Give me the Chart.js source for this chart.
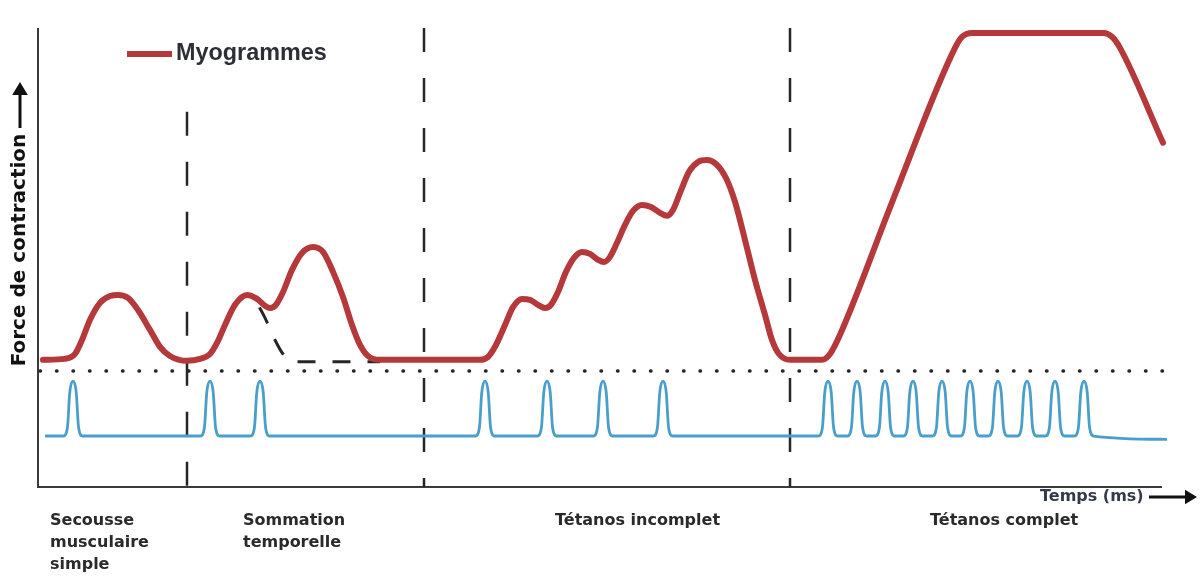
<!DOCTYPE html>
<html>
<head>
<meta charset="utf-8">
<script src="https://cdn.jsdelivr.net/npm/chart.js@4/dist/chart.umd.min.js"></script>
<style>
body{margin:0;background:#fff;}
#wrap{width:1200px;height:576px;position:relative;}
</style>
</head>
<body>
<div id="wrap"><canvas id="myo"></canvas></div>
<script>
// myogramme : temps (ms) / force (u.a., 0 = repos, 100 = plateau du tetanos)
var myoTime  = [2.5,13.5,18.5,22,26,31,36,40,45,50,56,61,66,74.5,81,86,
                89.5,93.5,98.5,104.5,109.5,113.5,116,119,122.5,127,132,137.5,142.5,147.5,152.5,157,161,165,171,
                191,221,225,228.5,233.5,237.5,242,246,250,253.5,256.5,260,264,268,272,276,280,283,286,289.5,
                293.5,297.5,302,306.5,311,314.5,317.5,321,325.5,330,334.5,339,344,348.5,353.5,358.5,363.5,367,370.5,376,
                392,396,401,427.5,458.5,462,467,533,537,541,562.5];
var myoForce = [-0.6,-0.3,1.2,5.5,11.7,16.9,19.0,19.3,18.4,14.7,8.6,3.4,0.6,-0.9,-0.3,1.2,
                4.6,10.1,16.3,19.3,18.1,16.0,15.3,16.3,20.2,27.0,32.2,34.0,32.5,26.4,18.7,10.1,4.0,0.6,-0.6,
                -0.6,-0.6,0.3,3.4,10.1,15.6,18.1,17.8,16.3,15.3,16.3,20.2,26.4,30.7,32.5,31.9,30.1,29.4,31.0,35.3,
                40.8,45.1,46.9,46.3,44.5,43.6,45.4,50.6,57.1,60.1,60.7,59.5,55.2,47.9,36.2,23.9,13.2,5.5,1.2,-0.6,
                -0.6,1.2,7.1,48.5,95.1,98.5,99.7,99.7,98.5,95.1,66.0];
// decroissance de la 1re secousse sans 2e stimulation (tirets)
var decayTime  = [110,113.5,118.5,122.5,127,171];
var decayForce = [16.3,12.3,5.5,1.2,-1.2,-1.2];
// stimulations (ms)
var stimTimes = [17.5, 86,111, 223.5,254.5,282.5,312.5,
                 395,409.5,423.5,437.5,452,466,480,494.5,508.5,523];
var pulseOffset = [-4.8,-2.8,-1.6,0,1.6,2.8,4.8];
var pulseLevel  = [0,0.15,0.8,1,0.8,0.15,0];
var stimStart = [3.5,0], stimEnd = [564.5,-0.06];
// limites des phases (ms)
var phaseLimits = [74.5,193,376];
var phaseTop    = [75.5,101.2,101.2];
var restLevel   = -4;
var phaseNames = [["Secousse","musculaire","simple"],["Sommation","temporelle"],["Tétanos incomplet"],["Tétanos complet"]];
var legendLabel = "Myogrammes";
var xTitle = "Temps (ms)";
var yTitle = "Force de contraction";

var RED = '#b5393b', BLUE = '#4a9fca', INK = '#262626';
var FONT = '"Liberation Sans", Arial, sans-serif';
var WIDE = '"DejaVu Sans", sans-serif';

function pts(xs, ys){
    var out=[];
    for(var i=0;i<xs.length;i++) out.push({x:xs[i],y:ys[i]});
    return out;
}
var stimPts=[{x:stimStart[0],y:stimStart[1]}];
for(var s=0;s<stimTimes.length;s++){
    for(var k=0;k<pulseOffset.length;k++){
        stimPts.push({x:stimTimes[s]+pulseOffset[k],y:pulseLevel[k]});
    }
}
stimPts.push({x:stimEnd[0],y:stimEnd[1]});

var datasets=[];
datasets.push({label:legendLabel,data:pts(myoTime,myoForce),borderColor:RED,borderWidth:6,
    cubicInterpolationMode:'monotone',pointRadius:0,yAxisID:'y',order:1,borderCapStyle:'round',borderJoinStyle:'round'});
datasets.push({label:'decay',data:pts(decayTime,decayForce),borderColor:INK,borderWidth:3,borderDash:[18,17],
    borderDashOffset:-3,cubicInterpolationMode:'monotone',pointRadius:0,yAxisID:'y',order:2});
datasets.push({label:'stim',data:stimPts,borderColor:BLUE,borderWidth:2.8,
    cubicInterpolationMode:'monotone',pointRadius:0,yAxisID:'y2',order:3});
datasets.push({label:'rest',data:[{x:1,y:restLevel},{x:566,y:restLevel}],borderColor:INK,borderWidth:3.5,
    borderDash:[0.5,16],borderCapStyle:'round',pointRadius:0,yAxisID:'y',order:5});
for(var p=0;p<phaseLimits.length;p++){
    datasets.push({label:'lim'+p,data:[{x:phaseLimits[p],y:phaseTop[p]},{x:phaseLimits[p],y:-39.6}],
        borderColor:INK,borderWidth:2.5,borderDash:[24,26],pointRadius:0,yAxisID:'y',order:4});
}

function arrowHead(ctx,x,y,dir,size){
    ctx.beginPath();
    if(dir==='up'){ctx.moveTo(x,y);ctx.lineTo(x-size*0.6,y+size);ctx.lineTo(x+size*0.6,y+size);}
    else{ctx.moveTo(x,y);ctx.lineTo(x-size,y-size*0.6);ctx.lineTo(x-size,y+size*0.6);}
    ctx.closePath();ctx.fill();
}

var decor={
    id:'decor',
    beforeDatasetsDraw:function(chart){
        var ctx=chart.ctx, a=chart.chartArea;
        ctx.save();
        ctx.strokeStyle='#3a3a3a';ctx.lineWidth=2;
        ctx.beginPath();
        ctx.moveTo(a.left,a.top);ctx.lineTo(a.left,a.bottom);
        ctx.lineTo(a.left+1124,a.bottom);
        ctx.stroke();
        ctx.restore();
    },
    afterDraw:function(chart){
        var ctx=chart.ctx;
        ctx.save();
        // legende
        ctx.strokeStyle=RED;ctx.lineWidth=6;
        ctx.beginPath();ctx.moveTo(127,54);ctx.lineTo(172,54);ctx.stroke();
        ctx.fillStyle='#2d2f36';
        ctx.font='bold 23.4px '+FONT;ctx.textBaseline='middle';ctx.textAlign='left';
        ctx.fillText(legendLabel,176,54);
        // titre axe y + fleche
        ctx.save();
        ctx.translate(20,250);ctx.rotate(-Math.PI/2);
        ctx.font='bold 20px '+WIDE;ctx.textAlign='center';ctx.fillStyle='#111';
        ctx.fillText(yTitle,0,0);
        ctx.restore();
        ctx.strokeStyle='#111';ctx.fillStyle='#111';ctx.lineWidth=3;
        ctx.beginPath();ctx.moveTo(20,128);ctx.lineTo(20,94);ctx.stroke();
        arrowHead(ctx,20,82,'up',13);
        // titre axe x + fleche
        ctx.font='bold 16px '+WIDE;ctx.fillStyle='#333a4a';ctx.textAlign='left';
        ctx.fillText(xTitle,1040,497);
        ctx.fillStyle='#111';
        ctx.beginPath();ctx.moveTo(1149,497);ctx.lineTo(1186,497);ctx.stroke();
        arrowHead(ctx,1197,497,'right',12);
        // noms des phases
        ctx.fillStyle='#2a2a2a';ctx.font='bold 16px '+WIDE;ctx.textAlign='left';
        var lx=[50,243,555,930];
        for(var i=0;i<phaseNames.length;i++){
            for(var j=0;j<phaseNames[i].length;j++){
                ctx.fillText(phaseNames[i][j],lx[i],521+j*22);
            }
        }
        ctx.restore();
    }
};

new Chart(document.getElementById('myo'),{
    type:'line',
    data:{datasets:datasets},
    options:{
        responsive:true,maintainAspectRatio:false,animation:false,devicePixelRatio:1,
        layout:{padding:{left:38,right:30,top:28,bottom:89}},
        scales:{
            x:{type:'linear',min:0,max:566,display:false},
            y:{min:-39.6,max:101.2,display:false},
            y2:{min:-0.927,max:7.42,display:false}
        },
        plugins:{legend:{display:false},tooltip:{enabled:false}}
    },
    plugins:[decor]
});
</script>
</body>
</html>
